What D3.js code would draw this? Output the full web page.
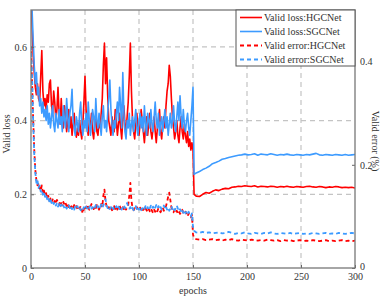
<!DOCTYPE html>
<html>
<head>
<meta charset="utf-8">
<script src="https://cdn.jsdelivr.net/npm/d3@7"></script>
<style>
  body { margin: 0; background: #fff; }
  text { font-family: "Liberation Serif", "Times New Roman", serif; fill: #333; }
</style>
</head>
<body>
<script>
// ---- data ----
var seriesNames = ["Valid loss:HGCNet", "Valid loss:SGCNet", "Valid error:HGCNet", "Valid error:SGCNet"];
var xTicks = [0, 50, 100, 150, 200, 250, 300];
var yLeftTicks = [0, 0.2, 0.4, 0.6];
var yRightTicks = [0, 0.2, 0.4];

// epochs 0..150 (one value per epoch)
var lossHGCEarly = [
  0.74, 0.66, 0.58, 0.53, 0.49, 0.47, 0.50, 0.46, 0.45, 0.52,
  0.59, 0.48, 0.44, 0.46, 0.43, 0.47, 0.45, 0.50, 0.51, 0.44,
  0.42, 0.48, 0.45, 0.40, 0.43, 0.49, 0.42, 0.39, 0.46, 0.40,
  0.38, 0.44, 0.41, 0.37, 0.40, 0.43, 0.38, 0.41, 0.36, 0.39,
  0.42, 0.37, 0.355, 0.38, 0.36, 0.40, 0.37, 0.35, 0.39, 0.45,
  0.52, 0.43, 0.38, 0.36, 0.40, 0.38, 0.42, 0.37, 0.35, 0.39,
  0.41, 0.37, 0.36, 0.40, 0.38, 0.42, 0.46, 0.55, 0.61, 0.50,
  0.57, 0.47, 0.40, 0.38, 0.36, 0.41, 0.39, 0.37, 0.43, 0.40,
  0.36, 0.39, 0.42, 0.38, 0.35, 0.40, 0.44, 0.39, 0.37, 0.41,
  0.45, 0.52, 0.61, 0.48, 0.40, 0.37, 0.35, 0.39, 0.42, 0.38,
  0.36, 0.39, 0.43, 0.40, 0.37, 0.34, 0.38, 0.41, 0.36, 0.39,
  0.42, 0.37, 0.35, 0.38, 0.41, 0.37, 0.34, 0.38, 0.40, 0.43,
  0.37, 0.35, 0.39, 0.41, 0.38, 0.44, 0.48, 0.50, 0.55, 0.52,
  0.46, 0.41, 0.38, 0.35, 0.37, 0.40, 0.36, 0.34, 0.38, 0.41,
  0.37, 0.35, 0.39, 0.36, 0.34, 0.37, 0.33, 0.35, 0.32, 0.34,
  0.32
];
var lossSGCEarly = [
  0.76, 0.70, 0.62, 0.55, 0.50, 0.53, 0.47, 0.49, 0.44, 0.46,
  0.42, 0.45, 0.41, 0.43, 0.40, 0.44, 0.39, 0.42, 0.38, 0.41,
  0.44, 0.39, 0.37, 0.42, 0.40, 0.38, 0.43, 0.39, 0.41, 0.37,
  0.44, 0.40, 0.38, 0.46, 0.41, 0.37, 0.42, 0.44, 0.485, 0.40,
  0.38, 0.36, 0.41, 0.39, 0.37, 0.42, 0.45, 0.39, 0.36, 0.40,
  0.38, 0.42, 0.37, 0.45, 0.40, 0.36, 0.39, 0.43, 0.41, 0.37,
  0.46, 0.40, 0.38, 0.42, 0.39, 0.36, 0.41, 0.44, 0.38, 0.40,
  0.37, 0.42, 0.46, 0.51, 0.43, 0.39, 0.36, 0.40, 0.38, 0.42,
  0.45, 0.40, 0.49, 0.44, 0.38, 0.53, 0.42, 0.37, 0.35, 0.40,
  0.38, 0.42, 0.36, 0.39, 0.41, 0.37, 0.40, 0.43, 0.38, 0.36,
  0.40, 0.42, 0.38, 0.41, 0.37, 0.44, 0.39, 0.36, 0.42, 0.40,
  0.38, 0.43, 0.39, 0.37, 0.41, 0.45, 0.40, 0.38, 0.42, 0.36,
  0.39, 0.41, 0.37, 0.40, 0.43, 0.38, 0.41, 0.36, 0.39, 0.42,
  0.38, 0.40, 0.44, 0.39, 0.37, 0.41, 0.45, 0.40, 0.467, 0.41,
  0.38, 0.43, 0.39, 0.37, 0.40, 0.42, 0.38, 0.36, 0.40, 0.44,
  0.49
];
var errHGCEarly = [
  0.42, 0.36, 0.29, 0.23, 0.19, 0.17, 0.16, 0.165, 0.155, 0.15,
  0.16, 0.145, 0.15, 0.14, 0.145, 0.135, 0.14, 0.13, 0.135, 0.128,
  0.133, 0.126, 0.13, 0.124, 0.132, 0.127, 0.122, 0.13, 0.125, 0.12,
  0.128, 0.122, 0.126, 0.119, 0.124, 0.118, 0.123, 0.117, 0.121, 0.116,
  0.122, 0.117, 0.12, 0.114, 0.118, 0.115, 0.12, 0.112, 0.106, 0.115,
  0.121, 0.116, 0.123, 0.117, 0.113, 0.119, 0.124, 0.118, 0.114, 0.12,
  0.116, 0.122, 0.117, 0.113, 0.119, 0.124, 0.118, 0.14, 0.152, 0.13,
  0.119, 0.114, 0.118, 0.113, 0.117, 0.112, 0.116, 0.12, 0.114, 0.118,
  0.113, 0.117, 0.121, 0.115, 0.112, 0.118, 0.114, 0.119, 0.113, 0.117,
  0.122, 0.14, 0.165, 0.13, 0.117, 0.112, 0.116, 0.113, 0.118, 0.114,
  0.112, 0.117, 0.113, 0.109, 0.115, 0.111, 0.116, 0.112, 0.108, 0.114,
  0.11, 0.115, 0.111, 0.107, 0.113, 0.109, 0.114, 0.11, 0.116, 0.112,
  0.108, 0.113, 0.117, 0.111, 0.115, 0.12, 0.128, 0.138, 0.146, 0.132,
  0.117, 0.112, 0.108, 0.113, 0.107, 0.111, 0.106, 0.11, 0.105, 0.109,
  0.113, 0.107, 0.104, 0.109, 0.105, 0.1, 0.106, 0.102, 0.098, 0.103,
  0.065
];
var errSGCEarly = [
  0.43, 0.37, 0.285, 0.22, 0.185, 0.165, 0.17, 0.155, 0.16, 0.148,
  0.152, 0.142, 0.147, 0.138, 0.142, 0.133, 0.137, 0.129, 0.134, 0.126,
  0.13, 0.124, 0.128, 0.121, 0.126, 0.119, 0.124, 0.118, 0.123, 0.117,
  0.121, 0.116, 0.12, 0.115, 0.119, 0.123, 0.116, 0.12, 0.114, 0.118,
  0.113, 0.119, 0.115, 0.12, 0.114, 0.117, 0.112, 0.116, 0.113, 0.118,
  0.114, 0.119, 0.115, 0.12, 0.116, 0.121, 0.115, 0.118, 0.113, 0.117,
  0.122, 0.116, 0.12, 0.114, 0.118, 0.123, 0.117, 0.121, 0.127, 0.133,
  0.121, 0.116, 0.119, 0.114, 0.118, 0.113, 0.117, 0.112, 0.116, 0.12,
  0.115, 0.119, 0.114, 0.118, 0.113, 0.117, 0.122, 0.116, 0.12, 0.126,
  0.119, 0.115, 0.118, 0.113, 0.117, 0.112, 0.116, 0.12, 0.114, 0.118,
  0.113, 0.117, 0.112, 0.116, 0.111, 0.115, 0.12, 0.114, 0.118, 0.112,
  0.116, 0.121, 0.115, 0.119, 0.113, 0.117, 0.122, 0.116, 0.12, 0.114,
  0.118, 0.113, 0.117, 0.121, 0.115, 0.119, 0.113, 0.117, 0.111, 0.115,
  0.12, 0.114, 0.118, 0.112, 0.116, 0.121, 0.115, 0.11, 0.114, 0.109,
  0.113, 0.107, 0.112, 0.106, 0.11, 0.105, 0.109, 0.104, 0.1, 0.106,
  0.08
];

// epochs 151, then 153..300 every 3 epochs
var epochsLate = [151].concat(d3.range(153, 301, 3));
var lossHGCLate = [
  0.200, 0.195, 0.194, 0.200, 0.205, 0.203, 0.208, 0.212, 0.210, 0.214,
  0.216, 0.215, 0.219, 0.220, 0.222, 0.221, 0.223, 0.222, 0.221, 0.223,
  0.220, 0.222, 0.221, 0.220, 0.222, 0.221, 0.219, 0.221, 0.220, 0.222,
  0.220, 0.219, 0.221, 0.220, 0.219, 0.221, 0.222, 0.220, 0.219, 0.221,
  0.220, 0.218, 0.220, 0.219, 0.221, 0.220, 0.218, 0.219, 0.218, 0.219,
  0.217
];
var lossSGCLate = [
  0.254, 0.258, 0.262, 0.267, 0.271, 0.276, 0.283, 0.286, 0.290, 0.295,
  0.297, 0.300, 0.302, 0.304, 0.306, 0.307, 0.309, 0.307, 0.308, 0.310,
  0.306, 0.309, 0.308, 0.307, 0.310, 0.308, 0.306, 0.308, 0.307, 0.309,
  0.307, 0.306, 0.308, 0.307, 0.306, 0.308, 0.307, 0.309, 0.311, 0.307,
  0.306, 0.308, 0.307, 0.306, 0.308, 0.307, 0.306, 0.308, 0.306, 0.307,
  0.308
];
var errHGCLate = [
  0.058, 0.056, 0.055, 0.056, 0.054, 0.055, 0.056, 0.054, 0.055, 0.053,
  0.055, 0.054, 0.056, 0.054, 0.053, 0.055, 0.054, 0.053, 0.055, 0.054,
  0.053, 0.054, 0.053, 0.055, 0.054, 0.053, 0.054, 0.052, 0.054, 0.053,
  0.054, 0.052, 0.053, 0.054, 0.052, 0.053, 0.052, 0.054, 0.053, 0.052,
  0.053, 0.054, 0.052, 0.053, 0.052, 0.053, 0.054, 0.052, 0.053, 0.052,
  0.053
];
var errSGCLate = [
  0.072, 0.069, 0.068, 0.070, 0.068, 0.069, 0.067, 0.068, 0.069, 0.067,
  0.068, 0.070, 0.068, 0.066, 0.068, 0.067, 0.069, 0.067, 0.066, 0.068,
  0.067, 0.066, 0.068, 0.067, 0.069, 0.067, 0.066, 0.068, 0.067, 0.066,
  0.068, 0.066, 0.067, 0.068, 0.066, 0.067, 0.066, 0.068, 0.067, 0.066,
  0.067, 0.068, 0.066, 0.067, 0.066, 0.068, 0.067, 0.066, 0.067, 0.068,
  0.067
];

// ---- layout ----
var W = 391, H = 301;
var margin = { top: 10, right: 36, bottom: 33, left: 31 },
    width = W - margin.left - margin.right,
    height = H - margin.top - margin.bottom;

var svg = d3.select("body").append("svg")
    .attr("width", W)
    .attr("height", H);

var g = svg.append("g")
    .attr("transform", "translate(" + margin.left + "," + margin.top + ")");

var xScale = d3.scaleLinear().domain([0, 300]).range([0, width]);
var yLeft = d3.scaleLinear().domain([0, 0.7]).range([height, 0]);
var yRight = d3.scaleLinear().domain([0, 0.5]).range([height, 0]);

function join(early, late) {
    var pts = early.map(function (v, i) { return [i, v]; });
    late.forEach(function (v, i) { pts.push([epochsLate[i], v]); });
    return pts;
}

var series = [
    { name: seriesNames[0], pts: join(lossHGCEarly, lossHGCLate), y: yLeft, color: "#ff0000", dash: null },
    { name: seriesNames[1], pts: join(lossSGCEarly, lossSGCLate), y: yLeft, color: "#3d9bff", dash: null },
    { name: seriesNames[2], pts: join(errHGCEarly, errHGCLate), y: yRight, color: "#ff0000", dash: "4,3" },
    { name: seriesNames[3], pts: join(errSGCEarly, errSGCLate), y: yRight, color: "#3d9bff", dash: "4,3" }
];

// grid
var gridColor = "#c4c4c4";
g.append("g").selectAll("line")
    .data(xTicks.filter(function (d) { return d > 0 && d < 300; }))
    .enter().append("line")
    .attr("x1", function (d) { return xScale(d); })
    .attr("x2", function (d) { return xScale(d); })
    .attr("y1", 0).attr("y2", height)
    .attr("stroke", gridColor).attr("stroke-width", 1.2)
    .attr("stroke-dasharray", "5,4");

g.append("g").selectAll("line")
    .data(yLeftTicks.filter(function (d) { return d > 0; }))
    .enter().append("line")
    .attr("x1", 0).attr("x2", width)
    .attr("y1", function (d) { return yLeft(d); })
    .attr("y2", function (d) { return yLeft(d); })
    .attr("stroke", gridColor).attr("stroke-width", 1.2)
    .attr("stroke-dasharray", "5,4");

// clip lines to plot area
svg.append("defs").append("clipPath")
    .attr("id", "clip")
    .append("rect")
    .attr("width", width)
    .attr("height", height);

var plot = g.append("g").attr("clip-path", "url(#clip)");

// dashed error lines first, solid loss lines over them
[2, 3, 0, 1].forEach(function (k) {
    var s = series[k];
    var line = d3.line()
        .x(function (d) { return xScale(d[0]); })
        .y(function (d) { return s.y(d[1]); });
    plot.append("path")
        .datum(s.pts)
        .attr("fill", "none")
        .attr("stroke", s.color)
        .attr("stroke-width", s.dash ? 1.8 : 1.6)
        .attr("stroke-dasharray", s.dash)
        .attr("stroke-linejoin", "round")
        .attr("d", line);
});

// axes
var xAxis = d3.axisBottom(xScale).tickValues(xTicks).tickSize(-3).tickPadding(5).tickFormat(d3.format("d"));
var yAxisL = d3.axisLeft(yLeft).tickValues(yLeftTicks).tickSize(-3).tickPadding(4)
    .tickFormat(function (d) { return d === 0 ? "0" : d3.format(".1f")(d); });
var yAxisR = d3.axisRight(yRight).tickValues(yRightTicks).tickSize(-3).tickPadding(5)
    .tickFormat(function (d) { return d === 0 ? "0" : d3.format(".1f")(d); });

function styleAxis(sel) {
    sel.select(".domain").remove();
    sel.selectAll(".tick line").attr("stroke", "#666");
    sel.selectAll(".tick text").attr("font-size", 10).style("font-family", "Liberation Serif, serif").attr("fill", "#333");
}

g.append("g").attr("transform", "translate(0," + height + ")").call(xAxis).call(styleAxis);
g.append("g").call(yAxisL).call(styleAxis);
var gR = g.append("g").attr("transform", "translate(" + width + ",0)").call(yAxisR).call(styleAxis);
// lift the right "0" a little so it clears the "300" below it
gR.selectAll(".tick text").filter(function (d) { return d === 0; }).attr("dy", "0.1em");

// frame
g.append("rect")
    .attr("width", width).attr("height", height)
    .attr("fill", "none").attr("stroke", "#777").attr("stroke-width", 1.3);

// axis titles
svg.append("text")
    .attr("x", margin.left + width / 2).attr("y", 294)
    .attr("text-anchor", "middle").attr("font-size", 10)
    .text("epochs");

svg.append("text")
    .attr("transform", "translate(10," + (margin.top + height / 2 - 5) + ") rotate(-90)")
    .attr("text-anchor", "middle").attr("font-size", 10)
    .text("Valid loss");

svg.append("text")
    .attr("transform", "translate(372," + (margin.top + height / 2 + 2) + ") rotate(90)")
    .attr("text-anchor", "middle").attr("font-size", 10)
    .text("Valid error (%)");

// legend
var lg = g.append("g").attr("transform", "translate(" + (width - 119) + ",0)");
lg.append("rect")
    .attr("width", 119).attr("height", 56)
    .attr("fill", "#fff").attr("stroke", "#555").attr("stroke-width", 1);

var item = lg.selectAll("g.item")
    .data(series)
    .enter().append("g")
    .attr("class", "item")
    .attr("transform", function (d, i) { return "translate(0," + (7.5 + i * 14) + ")"; });

item.append("line")
    .attr("x1", 4).attr("x2", 26)
    .attr("stroke", function (d) { return d.color; })
    .attr("stroke-width", function (d) { return d.dash ? 1.8 : 1.6; })
    .attr("stroke-dasharray", function (d) { return d.dash; });

item.append("text")
    .attr("x", 28).attr("dy", "0.35em")
    .attr("font-size", 10)
    .text(function (d) { return d.name; });
</script>
</body>
</html>
